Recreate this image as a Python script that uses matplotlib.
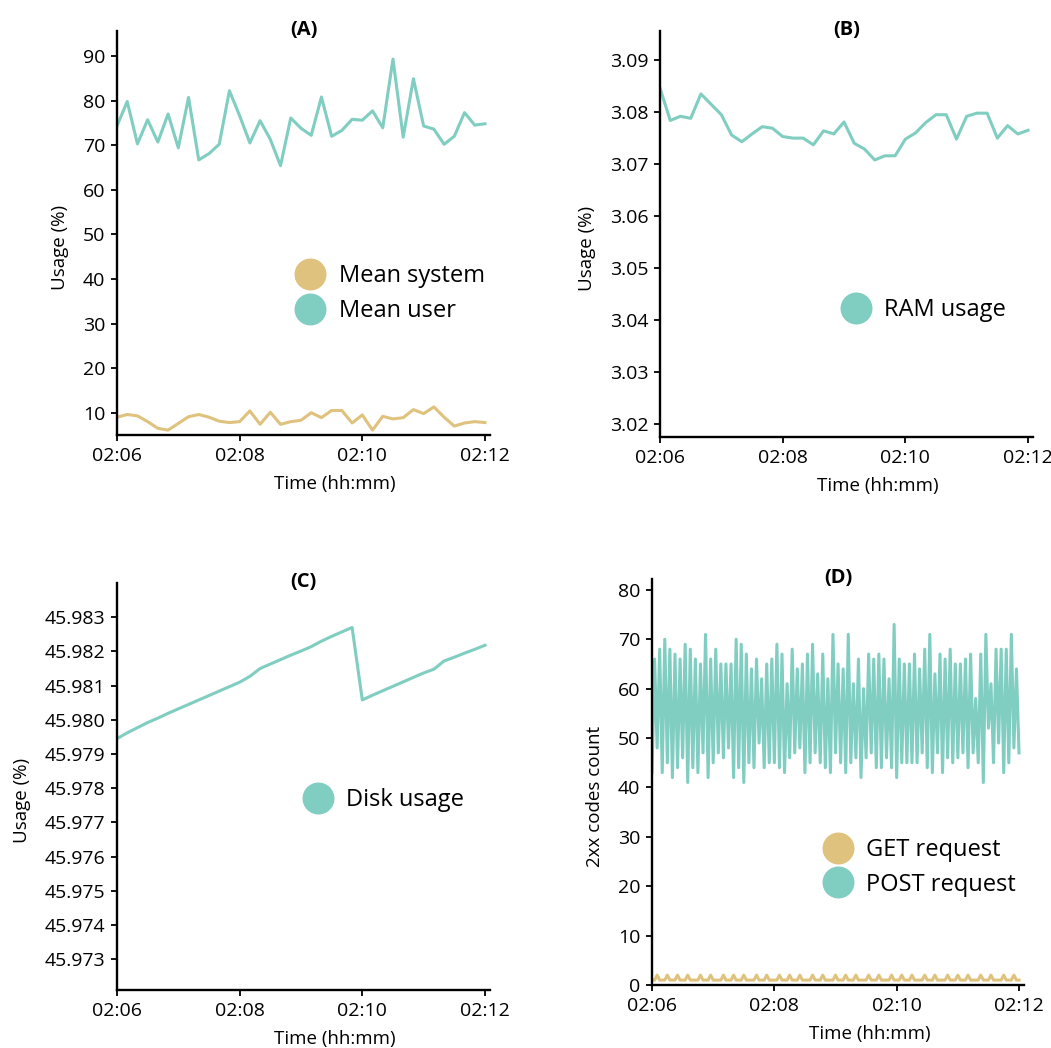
import numpy as np
import pandas as pd
import matplotlib
matplotlib.use('Agg')
import matplotlib.pyplot as plt
import matplotlib.dates as mdates
from matplotlib.ticker import FormatStrFormatter

plt.rcParams['font.family'] = ['Open Sans', 'DejaVu Sans']

TEAL = '#80cdc1'
GOLD = '#dfc27d'

# (A) CPU usage, one sample every 10 s
cpu_user = [74.3, 79.8, 70.3, 75.7, 70.7, 77.0, 69.4, 80.7, 66.7, 68.1,
            70.2, 82.2, 76.6, 70.5, 75.5, 71.3, 65.4, 76.1, 73.8, 72.2,
            80.8, 72.0, 73.3, 75.8, 75.6, 77.7, 73.9, 89.3, 71.8, 84.9,
            74.3, 73.6, 70.2, 72.0, 77.3, 74.5, 74.8]
cpu_system = [9.0, 9.6, 9.3, 8.0, 6.5, 6.1, 7.6, 9.1, 9.6, 9.0,
              8.1, 7.8, 8.0, 10.4, 7.4, 10.1, 7.4, 8.0, 8.3, 10.0,
              8.9, 10.5, 10.5, 7.7, 9.5, 6.1, 9.2, 8.6, 8.9, 10.7,
              9.8, 11.3, 9.0, 7.0, 7.7, 8.0, 7.8]

# (B) RAM usage
ram = [3.0846, 3.0784, 3.0792, 3.0788, 3.0835, 3.0815, 3.0795, 3.0756, 3.0743, 3.0758,
       3.0772, 3.0769, 3.0753, 3.0750, 3.0750, 3.0737, 3.0764, 3.0758, 3.0781, 3.0740,
       3.0729, 3.0708, 3.0716, 3.0716, 3.0748, 3.0760, 3.0780, 3.0795, 3.0795, 3.0748,
       3.0792, 3.0798, 3.0798, 3.0750, 3.0774, 3.0758, 3.0765]

# (C) Disk usage
disk = [45.97945, 45.97962, 45.97977, 45.97992, 45.98005, 45.98019, 45.98032, 45.98045,
        45.98058, 45.98071, 45.98084, 45.98097, 45.98110, 45.98127, 45.98150, 45.98163,
        45.98176, 45.98189, 45.98201, 45.98214, 45.98230, 45.98244, 45.98257, 45.98270,
        45.98058, 45.98072, 45.98085, 45.98098, 45.98111, 45.98124, 45.98137, 45.98148,
        45.98172, 45.98183, 45.98195, 45.98206, 45.98218]

# (D) 2xx response counts, one sample every 2.5 s
post_req = [43, 66, 48, 68, 43, 70, 45, 68, 42, 67, 44, 66, 46, 69, 41, 68, 44, 66, 43, 65,
            47, 71, 42, 66, 45, 68, 47, 65, 46, 65, 48, 65, 42, 70, 44, 69, 41, 67, 45, 64,
            44, 66, 49, 62, 44, 65, 45, 66, 45, 69, 44, 67, 43, 61, 46, 68, 47, 64, 48, 65,
            43, 67, 45, 69, 47, 63, 45, 67, 44, 62, 43, 71, 47, 65, 45, 64, 43, 71, 45, 61,
            46, 66, 42, 60, 46, 67, 47, 66, 44, 67, 44, 66, 46, 62, 44, 73, 42, 66, 45, 65,
            45, 65, 45, 67, 45, 64, 47, 68, 44, 71, 43, 63, 47, 67, 43, 66, 46, 68, 45, 65,
            46, 65, 47, 66, 44, 67, 47, 58, 45, 67, 41, 71, 52, 61, 45, 68, 49, 68, 43, 68,
            45, 71, 48, 64, 47]
get_req = [1, 1, 2, 1, 1, 1, 2, 1, 1, 1, 2, 1, 1, 1, 2, 1, 1, 1, 1, 2,
           1, 1, 1, 2, 1, 1, 1, 1, 2, 1, 1, 1, 2, 1, 1, 1, 2, 1, 1, 1,
           1, 2, 1, 1, 1, 2, 1, 1, 1, 1, 2, 1, 1, 1, 2, 1, 1, 1, 2, 1,
           1, 1, 1, 2, 1, 1, 1, 2, 1, 1, 1, 1, 2, 1, 1, 1, 2, 1, 1, 1,
           2, 1, 1, 1, 1, 2, 1, 1, 1, 2, 1, 1, 1, 1, 2, 1, 1, 1, 2, 1,
           1, 1, 2, 1, 1, 1, 1, 2, 1, 1, 1, 2, 1, 1, 1, 1, 2, 1, 1, 1,
           2, 1, 1, 1, 2, 1, 1, 1, 1, 2, 1, 1, 1, 2, 1, 1, 1, 1, 2, 1,
           1, 1, 2, 1, 1]

START = pd.Timestamp('2023-01-01 02:06:00')
t_slow = pd.date_range(START, periods=len(cpu_user), freq='10s')
t_fast = pd.date_range(START, periods=len(post_req), freq='2500ms')
XLIM = (START, START + pd.Timedelta(seconds=365))
XTICKS = pd.date_range(START, periods=4, freq='2min')

fig = plt.figure(figsize=(10.51, 10.48), dpi=100)
axA = fig.add_axes([0.1113, 0.5849, 0.355, 0.3855])
axB = fig.add_axes([0.628, 0.583, 0.355, 0.3874])
axC = fig.add_axes([0.1113, 0.0553, 0.355, 0.3884])
axD = fig.add_axes([0.6204, 0.0601, 0.354, 0.3874])

LW = 2.2


def style(ax, title, ylabel):
    for s in ['top', 'right']:
        ax.spines[s].set_visible(False)
    for s in ['left', 'bottom']:
        ax.spines[s].set_linewidth(1.7)
    ax.tick_params(direction='out', length=4.5, width=1.3, labelsize=14, pad=4)
    ax.set_xlim(XLIM)
    ax.set_xticks(XTICKS)
    ax.xaxis.set_major_formatter(mdates.DateFormatter('%H:%M'))
    ax.set_title(title, fontsize=14.5, fontweight='bold', y=1.0, pad=-3)
    ax.set_xlabel('Time (hh:mm)', fontsize=13.5, x=0.585, labelpad=7)
    ax.set_ylabel(ylabel, fontsize=13.5, y=0.465, labelpad=10)


def legend(ax, x, y):
    ax.legend(loc='center left', bbox_to_anchor=(x, y), frameon=False, fontsize=17,
              handlelength=1.2, handletextpad=0.6, labelspacing=0.45,
              borderpad=0, borderaxespad=0)


# (A)
axA.plot(t_slow, cpu_system, color=GOLD, lw=LW)
axA.plot(t_slow, cpu_user, color=TEAL, lw=LW)
axA.plot([], [], 'o', color=GOLD, ms=22, label='Mean system')
axA.plot([], [], 'o', color=TEAL, ms=22, label='Mean user')
axA.set_ylim(5.0, 95.6)
axA.set_yticks(np.arange(10, 91, 10))
style(axA, '(A)', 'Usage (%)')
legend(axA, 0.48, 0.35)

# (B)
axB.plot(t_slow, ram, color=TEAL, lw=LW)
axB.plot([], [], 'o', color=TEAL, ms=22, label='RAM usage')
axB.set_ylim(3.0175, 3.0956)
axB.set_yticks(np.arange(3.02, 3.0901, 0.01))
axB.yaxis.set_major_formatter(FormatStrFormatter('%.2f'))
style(axB, '(B)', 'Usage (%)')
legend(axB, 0.487, 0.313)

# (C)
axC.plot(t_slow, disk, color=TEAL, lw=LW)
axC.plot([], [], 'o', color=TEAL, ms=22, label='Disk usage')
axC.set_ylim(45.9721, 45.9840)
axC.set_yticks(np.arange(45.973, 45.98301, 0.001))
axC.yaxis.set_major_formatter(FormatStrFormatter('%.3f'))
style(axC, '(C)', 'Usage (%)')
legend(axC, 0.50, 0.467)

# (D)
axD.plot(t_fast, get_req, color=GOLD, lw=LW)
axD.plot(t_fast, post_req, color=TEAL, lw=LW)
axD.plot([], [], 'o', color=GOLD, ms=22, label='GET request')
axD.plot([], [], 'o', color=TEAL, ms=22, label='POST request')
axD.set_ylim(0, 82.2)
axD.set_yticks(np.arange(0, 81, 10))
style(axD, '(D)', '2xx codes count')
legend(axD, 0.4616, 0.29)

fig.savefig('out.png', dpi=100)
